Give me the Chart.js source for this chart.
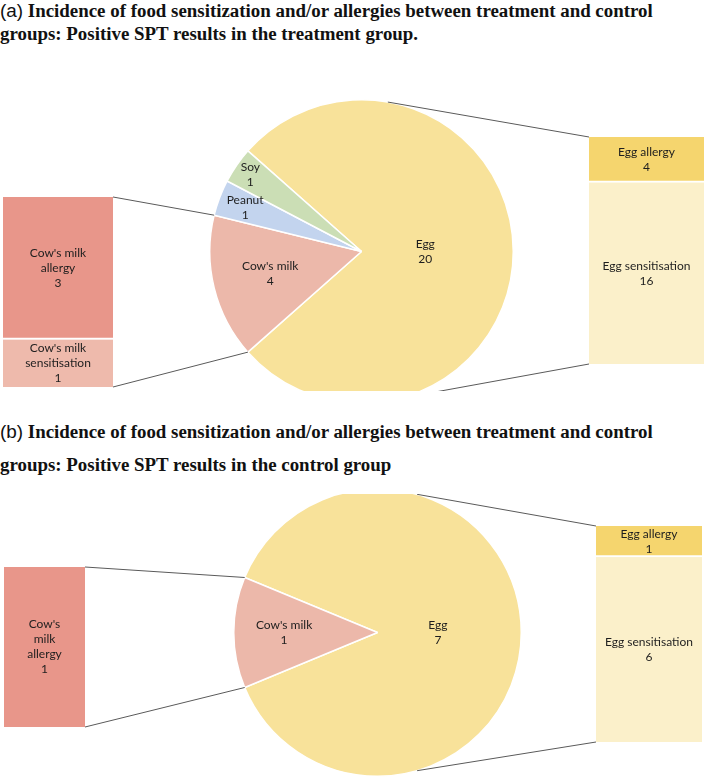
<!DOCTYPE html>
<html>
<head>
<meta charset="utf-8">
<script src="https://cdn.jsdelivr.net/npm/chart.js@4.4.1/dist/chart.umd.min.js"></script>
<style>
  body { margin: 0; background: #fff; width: 709px; height: 783px; position: relative; overflow: hidden; }
  .title { position: absolute; left: 0; font: bold 18.9px "Liberation Serif", serif; color: #111; white-space: nowrap; line-height: 19px; }
  .title .tag { font-family: "Liberation Sans", sans-serif; font-weight: normal; }
  .panel { position: absolute; left: 0; width: 709px; overflow: hidden; }
  .panel canvas { position: absolute; }
</style>
</head>
<body>
<div class="title" style="top:1px"><span class="tag">(a)</span> Incidence of food sensitization and/or allergies between treatment and control</div>
<div class="title" style="top:24px">groups: Positive SPT results in the treatment group.</div>
<div class="title" style="top:422px"><span class="tag">(b)</span> Incidence of food sensitization and/or allergies between treatment and control</div>
<div class="title" style="top:455px">groups: Positive SPT results in the control group</div>

<div class="panel" id="panelA" style="top:60px;height:331px">
  <canvas id="pieA"></canvas>
  <canvas id="cowA"></canvas>
  <canvas id="eggA"></canvas>
  <canvas id="linesA"></canvas>
</div>
<div class="panel" id="panelB" style="top:494px;height:289px">
  <canvas id="pieB"></canvas>
  <canvas id="cowB"></canvas>
  <canvas id="eggB"></canvas>
  <canvas id="linesB"></canvas>
</div>

<script>
// (a) treatment group
const pieALabels = ['Egg', "Cow's milk", 'Peanut', 'Soy'];
const pieAValues = [20, 4, 1, 1];
const cowALabels = [["Cow's milk", 'allergy'], ["Cow's milk", 'sensitisation']];
const cowAValues = [3, 1];
const eggALabels = [['Egg allergy'], ['Egg sensitisation']];
const eggAValues = [4, 16];

// (b) control group
const pieBLabels = ['Egg', "Cow's milk"];
const pieBValues = [7, 1];
const cowBLabels = [["Cow's", 'milk', 'allergy']];
const cowBValues = [1];
const eggBLabels = [['Egg allergy'], ['Egg sensitisation']];
const eggBValues = [1, 6];

const COLORS = {
  egg: '#F8E29A', cow: '#ECB8AA', peanut: '#C3D4EE', soy: '#CBDEB5',
  cowAllergy: '#E8968A', cowSens: '#EEBAAC', eggAllergy: '#F5D56E', eggSens: '#FBF0CA'
};
const TEXT = '#1e1e1e';
const LINE = '#5a5a5a';
const LABEL_FONT = '12px Lato, "Noto Sans", sans-serif';
const LINE_H = 15;

Chart.defaults.animation = false;

function sum(arr) { return arr.reduce((a, b) => a + b, 0); }

function place(id, left, top, w, h) {
  const c = document.getElementById(id);
  c.width = w; c.height = h;
  c.style.left = left + 'px'; c.style.top = top + 'px';
  c.style.width = w + 'px'; c.style.height = h + 'px';
  return c;
}

function drawLines(ctx, lines, x, y) {
  lines.forEach((t, k) => ctx.fillText(t, x, y + (k - (lines.length - 1) / 2) * LINE_H));
}

// texte dans les parts du camembert
const pieLabels = {
  id: 'pieLabels',
  afterDatasetsDraw(chart, args, opts) {
    const ctx = chart.ctx;
    const values = chart.data.datasets[0].data;
    ctx.save();
    ctx.font = LABEL_FONT; ctx.fillStyle = TEXT;
    ctx.textAlign = 'center'; ctx.textBaseline = 'middle';
    chart.getDatasetMeta(0).data.forEach((arc, i) => {
      const mid = (arc.startAngle + arc.endAngle) / 2;
      const r = arc.outerRadius * opts.radii[i];
      drawLines(ctx, [chart.data.labels[i], String(values[i])], arc.x + Math.cos(mid) * r, arc.y + Math.sin(mid) * r);
    });
    ctx.restore();
  }
};

// texte dans les segments des barres
const barLabels = {
  id: 'barLabels',
  afterDatasetsDraw(chart) {
    const ctx = chart.ctx;
    ctx.save();
    ctx.font = LABEL_FONT; ctx.fillStyle = TEXT;
    ctx.textAlign = 'center'; ctx.textBaseline = 'middle';
    chart.data.datasets.forEach((ds, i) => {
      const el = chart.getDatasetMeta(i).data[0];
      drawLines(ctx, ds.names.concat(String(ds.data[0])), el.x, (el.y + el.base) / 2);
    });
    ctx.restore();
  }
};

function makePie(canvas, labels, values, colors, radii) {
  const eggSpan = values[0] / sum(values) * 360;
  return new Chart(canvas, {
    type: 'pie',
    data: { labels, datasets: [{ data: values, backgroundColor: colors, borderColor: '#fff', borderWidth: 1.5 }] },
    options: {
      responsive: false,
      rotation: 90 - eggSpan / 2,
      layout: { padding: 0 },
      plugins: { legend: { display: false }, tooltip: { enabled: false }, pieLabels: { radii } }
    },
    plugins: [pieLabels]
  });
}

function makeBar(canvas, names, values, colors) {
  return new Chart(canvas, {
    type: 'bar',
    data: {
      labels: [''],
      datasets: values.map((v, i) => ({
        label: names[i].join(' '),
        names: names[i],
        data: [v],
        backgroundColor: colors[i],
        borderColor: '#fff',
        borderWidth: i < values.length - 1 ? { bottom: 2 } : 0,
        borderSkipped: false,
        barPercentage: 1,
        categoryPercentage: 1
      }))
    },
    options: {
      responsive: false,
      layout: { padding: 0 },
      scales: {
        x: { display: false, stacked: true },
        y: { display: false, stacked: true, reverse: true, min: 0, max: sum(values) }
      },
      plugins: { legend: { display: false }, tooltip: { enabled: false } }
    },
    plugins: [barLabels]
  });
}

function piePoint(chart, angle) {
  const arc = chart.getDatasetMeta(0).data[0];
  const c = chart.canvas;
  return { x: c.offsetLeft + arc.x + Math.cos(angle) * arc.outerRadius,
           y: c.offsetTop + arc.y + Math.sin(angle) * arc.outerRadius };
}

function barBox(chart) {
  const els = chart.data.datasets.map((d, i) => chart.getDatasetMeta(i).data[0]);
  const c = chart.canvas, e = els[0];
  return {
    left: c.offsetLeft + e.x - e.width / 2,
    right: c.offsetLeft + e.x + e.width / 2,
    top: c.offsetTop + Math.min(...els.map(el => Math.min(el.y, el.base))),
    bottom: c.offsetTop + Math.max(...els.map(el => Math.max(el.y, el.base)))
  };
}

function connectors(canvas, pie, cowIndex, cowBar, eggBar, eggAngles) {
  const ctx = canvas.getContext('2d');
  const cow = pie.getDatasetMeta(0).data[cowIndex];
  const cb = barBox(cowBar), eb = barBox(eggBar);
  const rad = d => d * Math.PI / 180;
  const segs = [
    [piePoint(pie, rad(eggAngles[0])), { x: eb.left, y: eb.top }],
    [piePoint(pie, rad(eggAngles[1])), { x: eb.left, y: eb.bottom }],
    [piePoint(pie, cow.endAngle), { x: cb.right, y: cb.top }],
    [piePoint(pie, cow.startAngle), { x: cb.right, y: cb.bottom }]
  ];
  ctx.strokeStyle = LINE; ctx.lineWidth = 1;
  segs.forEach(([a, b]) => {
    ctx.beginPath(); ctx.moveTo(a.x, a.y); ctx.lineTo(b.x, b.y); ctx.stroke();
  });
}

// panneau (a) : haut du panneau à y=60
const pieA = makePie(place('pieA', 209, 39, 305, 305), pieALabels, pieAValues,
  [COLORS.egg, COLORS.cow, COLORS.peanut, COLORS.soy], [0.42, 0.62, 0.82, 0.89]);
const cowA = makeBar(place('cowA', 3, 137, 110, 190), cowALabels, cowAValues, [COLORS.cowAllergy, COLORS.cowSens]);
const eggA = makeBar(place('eggA', 589, 77, 115, 227), eggALabels, eggAValues, [COLORS.eggAllergy, COLORS.eggSens]);
connectors(place('linesA', 0, 0, 709, 331), pieA, 1, cowA, eggA, [-80, 76]);

// panneau (b) : haut du panneau à y=494
const pieB = makePie(place('pieB', 233, -6, 289, 289), pieBLabels, pieBValues,
  [COLORS.egg, COLORS.cow], [0.42, 0.65]);
const cowB = makeBar(place('cowB', 4, 73, 81, 160), cowBLabels, cowBValues, [COLORS.cowAllergy]);
const eggB = makeBar(place('eggB', 596, 32, 106, 216), eggBLabels, eggBValues, [COLORS.eggAllergy, COLORS.eggSens]);
connectors(place('linesB', 0, 0, 709, 289), pieB, 1, cowB, eggB, [-74, 74]);
</script>
</body>
</html>
